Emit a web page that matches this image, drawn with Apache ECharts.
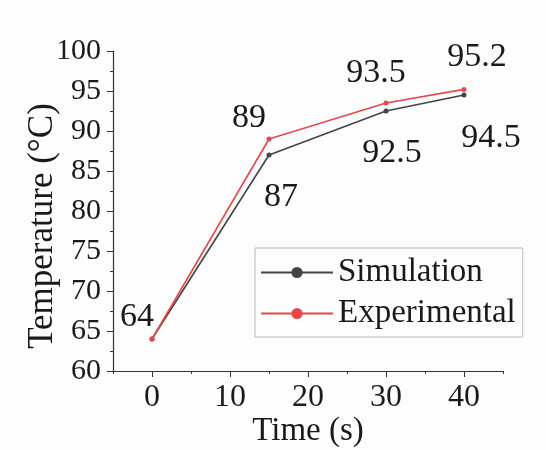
<!DOCTYPE html>
<html><head><meta charset="utf-8">
<script src="https://cdn.jsdelivr.net/npm/echarts@6/dist/echarts.min.js"></script>
<style>html,body{margin:0;padding:0;background:#fdfdfd}#c{width:546px;height:450px}</style>
</head><body><div id="c"></div>
<script>
const times = [0, 15, 30, 40];
const simulation = [64, 87, 92.5, 94.5];
const experimental = [64, 89, 93.5, 95.2];
const xMajorTicks = [0, 10, 20, 30, 40];
const xMinorTicks = [-5, 5, 15, 25, 35, 45];

const FONT = 'Liberation Serif';
const simOffsets = [null, [12, 42], [6, 42], [27, 43]];
const expOffsets = [[-15, -22], [-20, -21], [-10, -30], [13, -32]];

function build(vals, offs) {
  return vals.map((v, i) => ({
    value: [times[i], v],
    label: offs[i] ? { show: true, offset: offs[i] } : { show: false }
  }));
}

const chart = echarts.init(document.getElementById('c'), null, { renderer: 'canvas' });
const labelBase = {
  show: true, position: 'inside', formatter: p => String(p.value[1]),
  fontFamily: FONT, fontSize: 34, color: '#1a1a1a', align: 'center', verticalAlign: 'middle'
};
chart.setOption({
  backgroundColor: '#fdfdfd',
  animation: false,
  grid: { left: 113, right: 43, top: 51, bottom: 79, containLabel: false, outerBoundsMode: 'none' },
  legend: {
    orient: 'vertical', left: 255, top: 248,
    padding: [8, 7, 7, 5], itemGap: 8, itemWidth: 72, itemHeight: 14,
    borderColor: '#bbbbbb', borderWidth: 1,
    textStyle: { fontFamily: FONT, fontSize: 33, color: '#1a1a1a', padding: [0, 0, 0, 0] },
    data: ['Simulation', 'Experimental']
  },
  xAxis: [{
    type: 'value', min: -5, max: 45,
    name: 'Time (s)', nameLocation: 'middle', nameGap: 44, nameMoveOverlap: false,
    nameTextStyle: { fontFamily: FONT, fontSize: 33, color: '#1a1a1a' },
    axisLine: { show: true, onZero: false, lineStyle: { color: '#333', width: 1.2 } },
    axisTick: { show: true, length: 6, customValues: xMajorTicks, lineStyle: { color: '#333' } },
    axisLabel: { customValues: xMajorTicks, fontFamily: FONT, fontSize: 32, color: '#1a1a1a', margin: 11 },
    splitLine: { show: false }
  }, {
    type: 'value', min: -5, max: 45, position: 'bottom', gridIndex: 0,
    axisLine: { show: false, onZero: false },
    axisTick: { show: true, length: 3, customValues: xMinorTicks, lineStyle: { color: '#333' } },
    axisLabel: { show: false },
    splitLine: { show: false }
  }],
  yAxis: {
    type: 'value', min: 60, max: 100, interval: 5,
    name: 'Temperature (°C)', nameLocation: 'middle', nameGap: 53, nameMoveOverlap: false,
    nameTextStyle: { fontFamily: FONT, fontSize: 35, color: '#1a1a1a', padding: [0, 30, 0, 0] },
    axisLine: { show: true, onZero: false, lineStyle: { color: '#333', width: 1.2 } },
    axisTick: { show: true, length: 6, lineStyle: { color: '#333' } },
    minorTick: { show: true, splitNumber: 2, length: 3, lineStyle: { color: '#333' } },
    axisLabel: { fontFamily: FONT, fontSize: 30, color: '#1a1a1a', margin: 12 },
    splitLine: { show: false }
  },
  series: [{
    name: 'Simulation', type: 'line', xAxisIndex: 0,
    data: build(simulation, simOffsets),
    symbol: 'circle', symbolSize: 5,
    lineStyle: { color: '#444444', width: 1.6 },
    itemStyle: { color: '#444444' },
    label: labelBase
  }, {
    name: 'Experimental', type: 'line', xAxisIndex: 0,
    data: build(experimental, expOffsets),
    symbol: 'circle', symbolSize: 5,
    lineStyle: { color: '#e8474a', width: 1.6 },
    itemStyle: { color: '#e8474a' },
    label: labelBase
  }]
});
</script></body></html>
